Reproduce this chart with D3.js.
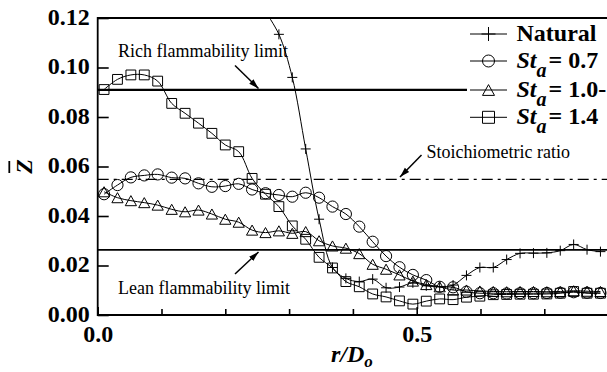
<!DOCTYPE html>
<html><head><meta charset="utf-8">
<script src="https://cdn.jsdelivr.net/npm/d3@7"></script>
<style>
html,body{margin:0;padding:0;background:#fff;}
svg{display:block;}
svg text{font-family:"Liberation Serif","Times New Roman",serif !important;fill:#000;}
</style></head>
<body><svg id="c" width="607" height="372"></svg>
<script>
// ---- data ----
const rPos = [0.010,0.031,0.052,0.073,0.094,0.116,0.137,0.158,0.179,0.200,0.221,0.242,0.263,0.284,0.305,0.326,0.347,0.368,0.389,0.410,0.431,0.452,0.473,0.494,0.515,0.536,0.557,0.578,0.599,0.620,0.641,0.662,0.683,0.704,0.725,0.746,0.767,0.788];
const zSt14 = [0.0911,0.0952,0.0970,0.0970,0.0945,0.0855,0.0815,0.0775,0.0734,0.0687,0.0660,0.0552,0.0488,0.0438,0.0360,0.0306,0.0233,0.0190,0.0135,0.0114,0.0085,0.0073,0.0057,0.0044,0.0056,0.0065,0.0062,0.0072,0.0076,0.0082,0.0083,0.0084,0.0084,0.0085,0.0088,0.0095,0.0088,0.0088];
const zSt07 = [0.0488,0.0525,0.0556,0.0564,0.0568,0.0555,0.0552,0.0532,0.0518,0.0521,0.0530,0.0507,0.0492,0.0485,0.0478,0.0494,0.0474,0.0438,0.0408,0.0357,0.0296,0.0238,0.0193,0.0162,0.0141,0.0114,0.0112,0.0094,0.0088,0.0088,0.0087,0.0088,0.0088,0.0089,0.0090,0.0092,0.0090,0.0089];
const zSt10 = [0.0498,0.0474,0.0462,0.0454,0.0444,0.0427,0.0417,0.0424,0.0408,0.0387,0.0375,0.0343,0.0333,0.0340,0.0330,0.0337,0.0300,0.0279,0.0270,0.0248,0.0205,0.0185,0.0162,0.0137,0.0123,0.0114,0.0101,0.0101,0.0097,0.0095,0.0094,0.0095,0.0095,0.0094,0.0095,0.0098,0.0096,0.0095];
const rNatural = [0.263,0.284,0.305,0.326,0.347,0.368,0.389,0.410,0.431,0.452,0.473,0.494,0.515,0.536,0.557,0.578,0.599,0.620,0.641,0.662,0.683,0.704,0.725,0.746,0.767,0.788];
const zNatural = [0.1225,0.1134,0.0960,0.0671,0.0387,0.0192,0.0148,0.0135,0.0145,0.0110,0.0113,0.0130,0.0118,0.0114,0.0121,0.0160,0.0192,0.0192,0.0224,0.0249,0.0250,0.0251,0.0260,0.0285,0.0264,0.0256];
const richLimit = 0.091, stoichRatio = 0.0548, leanLimit = 0.0263;
const yTicks = [0,0.02,0.04,0.06,0.08,0.10,0.12];
const xMajor = [0,0.5];
const xMinor = [0.1,0.2,0.3,0.4,0.6,0.7];
const legendLabels = ["Natural","0.7","1.0-","1.4"];

// ---- layout ----
const svg = d3.select("#c");
const L = 97.7, T = 18, B = 315, R = 608.1;
const x = d3.scaleLinear().domain([0,0.8]).range([L,R]);
const y = d3.scaleLinear().domain([0,0.12]).range([B,T]);
const SERIF = "Liberation Serif";

const defs = svg.append("defs");
defs.append("clipPath").attr("id","clip")
  .append("rect").attr("x",L).attr("y",T).attr("width",R-L).attr("height",B-T);
defs.append("marker").attr("id","arr").attr("markerUnits","userSpaceOnUse")
  .attr("markerWidth",11).attr("markerHeight",8).attr("refX",10).attr("refY",4)
  .attr("orient","auto")
  .append("path").attr("d","M0,1 L10,4 L0,7 Z").attr("fill","#000");

// horizontal reference lines
svg.append("line").attr("x1",L).attr("x2",R).attr("y1",y(richLimit)).attr("y2",y(richLimit))
  .attr("stroke","#000").attr("stroke-width",2.2);
svg.append("line").attr("x1",L).attr("x2",R).attr("y1",y(leanLimit)).attr("y2",y(leanLimit))
  .attr("stroke","#000").attr("stroke-width",1.6);
svg.append("line").attr("x1",L).attr("x2",R).attr("y1",y(stoichRatio)).attr("y2",y(stoichRatio))
  .attr("stroke","#000").attr("stroke-width",1.3).attr("stroke-dasharray","11,5,3,5");

// series
const mk = {
  plus: s => `M${-s},0H${s}M0,${-s}V${s}`,
  circle: s => `M${s},0A${s},${s} 0 1,1 ${-s},0A${s},${s} 0 1,1 ${s},0Z`,
  tri: s => `M0,${-s*0.9}L${s},${s*0.9}L${-s},${s*0.9}Z`,
  square: s => `M${-s},${-s}H${s}V${s}H${-s}Z`
};
const series = [
  {xs: rNatural, ys: zNatural, m: "plus", s: 5},
  {xs: rPos, ys: zSt07, m: "circle", s: 5.6},
  {xs: rPos, ys: zSt10, m: "tri", s: 5.6},
  {xs: rPos, ys: zSt14, m: "square", s: 4.9}
];
const line = d3.line().curve(d3.curveCatmullRom.alpha(0.5));
const gData = svg.append("g").attr("clip-path","url(#clip)");
series.forEach(se => {
  const pts = se.xs.map((r,i)=>[x(r), y(se.ys[i])]);
  gData.append("path").attr("d", line(pts)).attr("fill","none").attr("stroke","#000").attr("stroke-width",1);
  gData.selectAll(null).data(pts).enter().append("path")
    .attr("transform", d=>`translate(${d[0]},${d[1]})`)
    .attr("d", mk[se.m](se.s)).attr("fill","none").attr("stroke","#000").attr("stroke-width",1);
});

// axes
const yAxis = d3.axisLeft(y).tickValues(yTicks).tickFormat(d3.format(".2f")).tickSize(-11).tickPadding(8);
const gy = svg.append("g").attr("transform",`translate(${L},0)`).call(yAxis);
const xAxis = d3.axisBottom(x).tickValues(xMajor).tickFormat(d3.format(".1f")).tickSize(-8).tickPadding(9.5);
const gx = svg.append("g").attr("transform",`translate(0,${B})`).call(xAxis);
const xAxisMinor = d3.axisBottom(x).tickValues(xMinor).tickFormat("").tickSize(-6);
const gxm = svg.append("g").attr("transform",`translate(0,${B})`).call(xAxisMinor);
[gy,gx,gxm].forEach(g=>{
  g.attr("font-family",SERIF).attr("font-size",24).attr("font-weight","bold");
  g.select(".domain").remove();
  g.selectAll(".tick line").attr("stroke","#000").attr("stroke-width",1.6);
  g.selectAll("text").attr("fill","#000");
});
gy.selectAll("text").attr("dy","0.27em");

// frame
svg.append("line").attr("x1",L).attr("x2",L).attr("y1",T-1).attr("y2",B+1).attr("stroke","#000").attr("stroke-width",1.8);
svg.append("line").attr("x1",L).attr("x2",R).attr("y1",T).attr("y2",T).attr("stroke","#000").attr("stroke-width",1.8);
svg.append("line").attr("x1",L).attr("x2",R).attr("y1",B).attr("y2",B).attr("stroke","#000").attr("stroke-width",1.8);

// annotations
svg.append("text").attr("x",118).attr("y",57).attr("font-size",18).text("Rich flammability limit");
svg.append("line").attr("x1",235).attr("y1",65.5).attr("x2",258.5).attr("y2",88.5)
  .attr("stroke","#000").attr("stroke-width",1.5).attr("marker-end","url(#arr)");
svg.append("text").attr("x",118).attr("y",294).attr("font-size",18).text("Lean flammability limit");
svg.append("line").attr("x1",235).attr("y1",274).attr("x2",258.5).attr("y2",252)
  .attr("stroke","#000").attr("stroke-width",1.5).attr("marker-end","url(#arr)");
svg.append("text").attr("x",426.5).attr("y",158).attr("font-size",18).text("Stoichiometric ratio");
svg.append("line").attr("x1",421.5).attr("y1",155).attr("x2",400).attr("y2",177)
  .attr("stroke","#000").attr("stroke-width",1.5).attr("marker-end","url(#arr)");

// legend
svg.append("rect").attr("x",467).attr("y",20).attr("width",150).attr("height",110).attr("fill","#fff");
const legY = [34,61,90,117.3];
const legM = [["plus",7],["circle",6],["tri",6],["square",6]];
legY.forEach((ly,i)=>{
  svg.append("line").attr("x1",470).attr("x2",507).attr("y1",ly).attr("y2",ly).attr("stroke","#000").attr("stroke-width",1);
  svg.append("path").attr("transform",`translate(488.5,${ly})`).attr("d",mk[legM[i][0]](legM[i][1]))
    .attr("fill","none").attr("stroke","#000").attr("stroke-width",1);
  const t = svg.append("text").attr("x",516.5).attr("y",ly+7).attr("font-size",24).attr("font-weight","bold");
  if(i===0){ t.text(legendLabels[0]); }
  else {
    t.append("tspan").attr("font-style","italic").text("St");
    t.append("tspan").attr("font-style","italic").attr("font-size",20).attr("dy",9).text("a");
    t.append("tspan").attr("dy",-9).attr("dx",2).text("= " + legendLabels[i]);
  }
});

// axis titles
const zt = svg.append("g").attr("transform","translate(32,166.5) rotate(-90)");
zt.append("text").attr("text-anchor","middle").attr("font-size",24).attr("font-weight","bold").attr("font-style","italic").text("Z");
svg.append("line").attr("x1",9.3).attr("x2",9.3).attr("y1",161).attr("y2",173).attr("stroke","#000").attr("stroke-width",1.8);
const xt = svg.append("text").attr("x",331).attr("y",361.5).attr("font-size",24).attr("font-weight","bold").attr("font-style","italic");
xt.append("tspan").text("r/D");
xt.append("tspan").attr("font-size",17).attr("dy",5).text("o");
</script></body></html>
